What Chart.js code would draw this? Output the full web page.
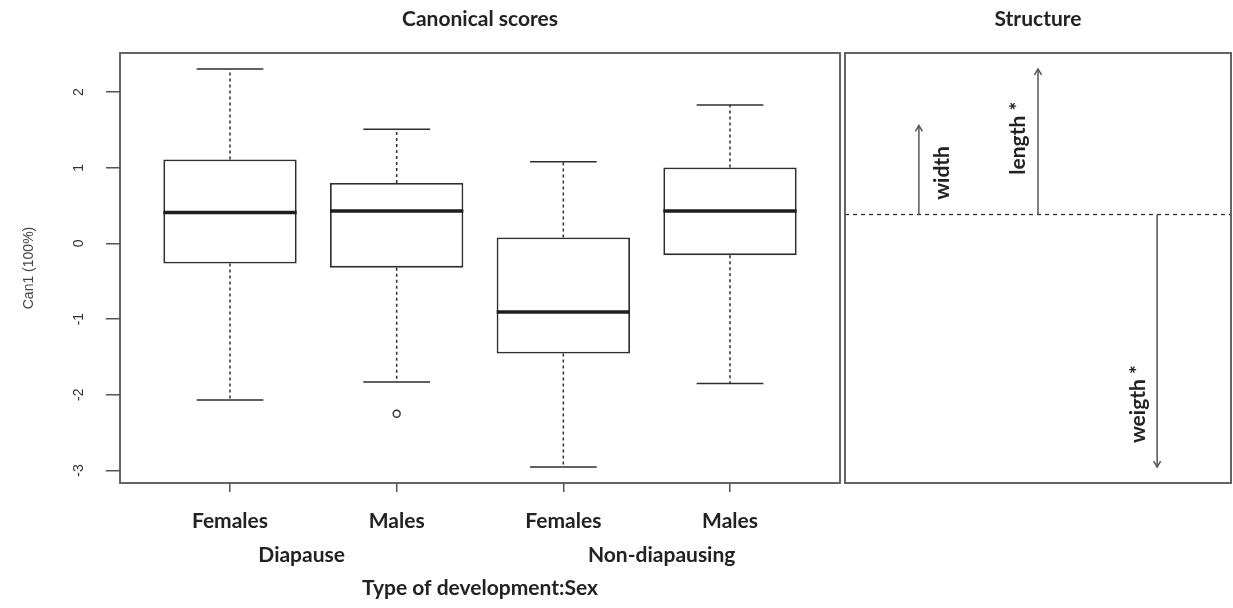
<!DOCTYPE html>
<html>
<head>
<meta charset="utf-8">
<script src="https://cdn.jsdelivr.net/npm/chart.js@4.4.1/dist/chart.umd.min.js"></script>
<style>
  html, body { margin: 0; padding: 0; background: #fff; }
  #wrap { position: relative; width: 1233px; height: 608px; }
  #wrap canvas { position: absolute; left: 0; top: 0; }
</style>
</head>
<body>
<div id="wrap">
  <canvas id="scores" width="1233" height="608"></canvas>
  <canvas id="structure" width="1233" height="608"></canvas>
</div>
<script>
// ---- Canonical scores (Can1) by type of development and sex ----
const categories  = ['Females', 'Males', 'Females', 'Males'];
const groupLabels = ['Diapause', 'Non-diapausing'];
const whiskerLow  = [-2.07, -1.83, -2.955, -1.85];
const quartile1   = [-0.265, -0.32, -1.455, -0.155];
const medians     = [0.41, 0.43, -0.905, 0.43];
const quartile3   = [1.11, 0.80, 0.08, 1.005];
const whiskerHigh = [2.306, 1.51, 1.08, 1.83];
const outlierGroup = [2];
const outlierValue = [-2.25];
const yTicks = [-3, -2, -1, 0, 1, 2];

// ---- Structure coefficients of the measured variables ----
const variables = ['width', 'length *', 'weigth *'];
const structure = [0.30, 0.49, -0.85];

const BOLD = "'Lato', 'Open Sans', sans-serif";
const PLAIN = "'Liberation Sans', Arial, sans-serif";
const INK = '#2e2e2e';
const FRAME = '#555';
const BOLD_SIZE = 21;

// R-style axis limits: data range widened by 4% on each side
function widen(lo, hi) { const p = (hi - lo) * 0.04; return [lo - p, hi + p]; }
const [yMin, yMax] = widen(Math.min(...whiskerLow, ...outlierValue), Math.max(...whiskerHigh));
const [xMin, xMax] = widen(0.5, categories.length + 0.5);
const [sMin, sMax] = widen(Math.min(0, ...structure), Math.max(0, ...structure));
const [vMin, vMax] = widen(0.5, variables.length + 0.5);

const framePlugin = {
  id: 'frame',
  afterDraw(chart) {
    const { ctx, chartArea: a } = chart;
    ctx.save();
    ctx.strokeStyle = FRAME;
    ctx.lineWidth = 1.8;
    ctx.strokeRect(a.left, a.top, a.right - a.left, a.bottom - a.top);
    ctx.restore();
  }
};

// whiskers, staples and medians on top of the boxes
const boxPartsPlugin = {
  id: 'boxParts',
  afterDatasetsDraw(chart) {
    const { ctx, scales: { y } } = chart;
    const bars = chart.getDatasetMeta(0).data;
    ctx.save();
    bars.forEach((bar, i) => {
      const cx = bar.x, half = bar.width / 2;
      ctx.strokeStyle = INK;
      ctx.lineWidth = 1.5;
      ctx.setLineDash([3, 3]);
      ctx.beginPath();
      ctx.moveTo(cx, y.getPixelForValue(quartile3[i]));
      ctx.lineTo(cx, y.getPixelForValue(whiskerHigh[i]));
      ctx.moveTo(cx, y.getPixelForValue(quartile1[i]));
      ctx.lineTo(cx, y.getPixelForValue(whiskerLow[i]));
      ctx.stroke();
      ctx.setLineDash([]);
      ctx.beginPath();
      [whiskerHigh[i], whiskerLow[i]].forEach(v => {
        const py = y.getPixelForValue(v);
        ctx.moveTo(cx - half / 2, py);
        ctx.lineTo(cx + half / 2, py);
      });
      ctx.stroke();
      ctx.lineWidth = 3.5;
      ctx.strokeStyle = '#1e1e1e';
      ctx.beginPath();
      const pm = y.getPixelForValue(medians[i]);
      ctx.moveTo(cx - half, pm);
      ctx.lineTo(cx + half, pm);
      ctx.stroke();
    });
    ctx.restore();
  }
};

// rotated y tick labels and the group labels under the category ticks
const axisTextPlugin = {
  id: 'axisText',
  afterDraw(chart, args, opts) {
    const { ctx, scales: { x, y } } = chart;
    ctx.save();
    ctx.fillStyle = '#333';
    ctx.font = `14px ${PLAIN}`;
    ctx.textAlign = 'center';
    ctx.textBaseline = 'middle';
    y.ticks.forEach(t => {
      ctx.save();
      ctx.translate(opts.tickLabelX, y.getPixelForValue(t.value));
      ctx.rotate(-Math.PI / 2);
      ctx.fillText(String(t.value), 0, 0);
      ctx.restore();
    });
    ctx.fillStyle = '#222';
    ctx.font = `bold ${BOLD_SIZE}px ${BOLD}`;
    groupLabels.forEach((g, j) => {
      ctx.fillText(g, x.getPixelForValue(opts.groupAt[j]), x.top + opts.groupOffset);
    });
    ctx.restore();
  }
};

new Chart(document.getElementById('scores'), {
  type: 'bar',
  data: {
    datasets: [
      {
        type: 'bar',
        data: categories.map((c, i) => ({ x: i + 1, y: [quartile1[i], quartile3[i]] })),
        backgroundColor: '#fff',
        borderColor: INK,
        borderWidth: 1.8,
        borderSkipped: false,
        categoryPercentage: 0.8,
        barPercentage: 1.0,
        order: 2
      },
      {
        type: 'scatter',
        data: outlierGroup.map((g, i) => ({ x: g, y: outlierValue[i] })),
        pointStyle: 'circle',
        pointRadius: 3.5,
        pointBorderColor: INK,
        pointBackgroundColor: '#fff',
        pointBorderWidth: 1.4,
        order: 1
      }
    ]
  },
  options: {
    responsive: false,
    animation: false,
    devicePixelRatio: 1,
    layout: { padding: { left: 0, right: 393, top: 0, bottom: 0 } },
    plugins: {
      legend: { display: false },
      tooltip: { enabled: false },
      title: {
        display: true, text: 'Canonical scores', fullSize: false,
        color: '#222', font: { family: BOLD, size: BOLD_SIZE, weight: 'bold', lineHeight: 1.2 },
        padding: { top: 7, bottom: 20.8 }
      },
      axisText: { tickLabelX: 79, groupAt: [1.43, 3.59], groupOffset: 72 }
    },
    scales: {
      x: {
        type: 'linear', min: xMin, max: xMax, offset: false,
        afterBuildTicks: s => { s.ticks = categories.map((c, i) => ({ value: i + 1 })); },
        afterFit: s => { s.height = 125; },
        ticks: {
          callback: v => categories[v - 1],
          autoSkip: false, maxRotation: 0, padding: 17,
          color: '#222', font: { family: BOLD, size: BOLD_SIZE, weight: 'bold', lineHeight: 1.2 }
        },
        grid: { offset: false, drawOnChartArea: false, tickLength: 9, color: FRAME, lineWidth: 1.5 },
        border: { display: false },
        title: {
          display: true, text: 'Type of development:Sex', color: '#222',
          font: { family: BOLD, size: BOLD_SIZE, weight: 'bold', lineHeight: 1.2 },
          padding: { top: 0, bottom: 7 }
        }
      },
      y: {
        type: 'linear', min: yMin, max: yMax,
        afterBuildTicks: s => { s.ticks = yTicks.map(v => ({ value: v })); },
        afterFit: s => { s.width = 120; },
        ticks: { display: false },
        grid: { drawOnChartArea: false, tickLength: 14, color: FRAME, lineWidth: 1.5 },
        border: { display: false },
        title: {
          display: true, text: 'Can1 (100%)', color: '#444',
          font: { family: PLAIN, size: 14, lineHeight: 1.2 },
          padding: { top: 21, bottom: 0 }
        }
      }
    }
  },
  plugins: [boxPartsPlugin, axisTextPlugin, framePlugin]
});

// zero reference line, arrow heads and variable names
const vectorPlugin = {
  id: 'vectors',
  beforeDatasetsDraw(chart) {
    const { ctx, chartArea: a, scales: { y } } = chart;
    const y0 = y.getPixelForValue(0);
    ctx.save();
    ctx.strokeStyle = INK;
    ctx.lineWidth = 1.3;
    ctx.setLineDash([4, 4]);
    ctx.beginPath();
    ctx.moveTo(a.left, y0);
    ctx.lineTo(a.right, y0);
    ctx.stroke();
    ctx.restore();
  },
  afterDatasetsDraw(chart, args, opts) {
    const { ctx, scales: { x, y } } = chart;
    ctx.save();
    structure.forEach((v, i) => {
      const px = x.getPixelForValue(i + 1);
      const py = y.getPixelForValue(v);
      const dir = v > 0 ? 1 : -1;
      const len = 7, spread = Math.PI / 6;
      ctx.strokeStyle = '#555';
      ctx.lineWidth = 1.5;
      ctx.beginPath();
      ctx.moveTo(px - len * Math.sin(spread), py + dir * len * Math.cos(spread));
      ctx.lineTo(px, py);
      ctx.lineTo(px + len * Math.sin(spread), py + dir * len * Math.cos(spread));
      ctx.stroke();

      ctx.save();
      ctx.translate(px + opts.labelShift[i], y.getPixelForValue(opts.labelAt[i]));
      ctx.rotate(-Math.PI / 2);
      ctx.fillStyle = '#222';
      ctx.font = `bold ${BOLD_SIZE}px ${BOLD}`;
      ctx.textAlign = 'center';
      ctx.textBaseline = 'middle';
      ctx.fillText(variables[i], 0, 0);
      ctx.restore();
    });
    ctx.restore();
  }
};

new Chart(document.getElementById('structure'), {
  type: 'line',
  data: {
    datasets: variables.map((name, i) => ({
      label: name,
      data: [{ x: i + 1, y: 0 }, { x: i + 1, y: structure[i] }],
      borderColor: '#555',
      borderWidth: 1.5,
      pointRadius: 0
    }))
  },
  options: {
    responsive: false,
    animation: false,
    devicePixelRatio: 1,
    layout: { padding: { left: 845, right: 2, top: 0, bottom: 125 } },
    plugins: {
      legend: { display: false },
      tooltip: { enabled: false },
      title: {
        display: true, text: 'Structure', fullSize: false,
        color: '#222', font: { family: BOLD, size: BOLD_SIZE, weight: 'bold', lineHeight: 1.2 },
        padding: { top: 7, bottom: 20.8 }
      },
      vectors: { labelAt: [0.14, 0.257, -0.638], labelShift: [23, -20, -19] }
    },
    scales: {
      x: { type: 'linear', display: false, min: vMin, max: vMax },
      y: { type: 'linear', display: false, min: sMin, max: sMax }
    }
  },
  plugins: [vectorPlugin, framePlugin]
});
</script>
</body>
</html>
